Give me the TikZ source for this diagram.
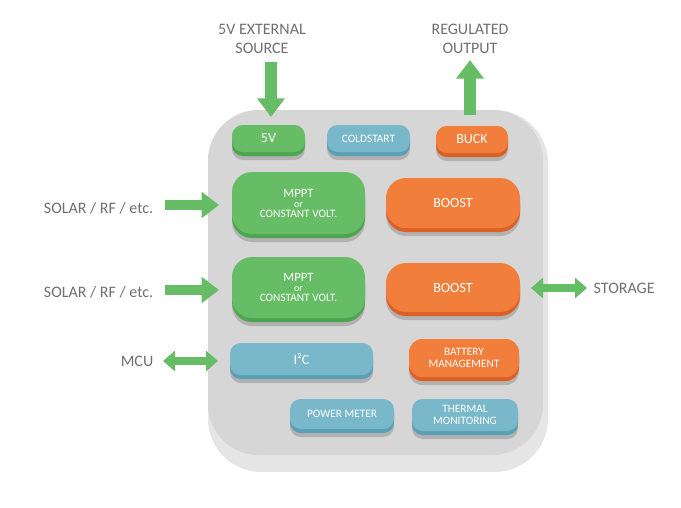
\documentclass[tikz,border=0pt]{standalone}
\usepackage{fontspec}
\setmainfont{Carlito}
\usetikzlibrary{arrows.meta}
\definecolor{grn}{HTML}{66BD66}\definecolor{grnd}{HTML}{4FA54F}
\definecolor{blu}{HTML}{78B8CA}\definecolor{blud}{HTML}{5A9FB4}
\definecolor{org}{HTML}{F27E3C}\definecolor{orgd}{HTML}{DD5F27}
\definecolor{txt}{HTML}{707070}
\tikzset{
 lbl/.style={text=txt,font=\fontsize{12}{14}\selectfont,align=center},
 arr/.style={grn,line width=9pt,-{Triangle[length=14pt,width=20pt]}},
 darr/.style={grn,line width=6pt,{Triangle[length=9pt,width=15pt]}-{Triangle[length=9pt,width=15pt]}},
}
% block: name, x1,y1,x2,y2, main, dark, radius, text
\newcommand{\blk}[9]{%
 \fill[black!30,rounded corners=#8] (#2,#3+8) rectangle (#4,#5+8);
 \fill[#7,rounded corners=#8] (#2,#3+4) rectangle (#4,#5+4);
 \fill[#6,rounded corners=#8] (#2,#3) rectangle (#4,#5);
 \node[text=white,align=center,font=\fontsize{8.5}{8.5}\selectfont] (#1) at ({(#2+#4)/2},{(#3+#5)/2}) {#9};}
\begin{document}
\begin{tikzpicture}[x=0.75pt,y=-0.75pt]
\useasboundingbox (0,0) rectangle (681,507);
\fill[white] (0,0) rectangle (681,507);
\fill[black!10,rounded corners=40] (208,110) rectangle (548,472);
\fill[black!17!green!2!white!83!black,fill=black!16,rounded corners=38] (208,110) rectangle (543,455);
\blk{v5}{232}{125}{305}{152}{grn}{grnd}{8}{\fontsize{10.5}{12}\selectfont 5V}
\blk{cold}{327}{125}{410}{152}{blu}{blud}{8}{COLDSTART}
\blk{buck}{436}{126}{508}{153}{org}{orgd}{8}{\fontsize{10.5}{12}\selectfont BUCK}
\blk{mppt1}{232}{172}{365}{234}{grn}{grnd}{15}{\fontsize{9.5}{11.5}\selectfont MPPT\\[-1pt]{\fontsize{7.5}{9}\selectfont or}\\[-1pt]CONSTANT VOLT.}
\blk{boost1}{386}{178}{520}{228}{org}{orgd}{15}{\fontsize{10.5}{12}\selectfont BOOST}
\blk{mppt2}{232}{257}{365}{318}{grn}{grnd}{15}{\fontsize{9.5}{11.5}\selectfont MPPT\\[-1pt]{\fontsize{7.5}{9}\selectfont or}\\[-1pt]CONSTANT VOLT.}
\blk{boost2}{386}{263}{520}{312}{org}{orgd}{15}{\fontsize{10.5}{12}\selectfont BOOST}
\blk{i2c}{230}{343}{373}{375}{blu}{blud}{8}{\fontsize{10.5}{12}\selectfont I²C}
\blk{batt}{409}{339}{519}{377}{org}{orgd}{10}{BATTERY\\MANAGEMENT}
\blk{pm}{290}{399}{394}{429}{blu}{blud}{8}{POWER METER}
\blk{therm}{412}{399}{518}{431}{blu}{blud}{8}{THERMAL\\MONITORING}
% labels
\node[lbl] (ext) at (262,39) {5V EXTERNAL\\SOURCE};
\node[lbl] (reg) at (470,39) {REGULATED\\OUTPUT};
\node[lbl,anchor=east] (s1) at (158,208) {SOLAR / RF / etc.};
\node[lbl,anchor=east] (s2) at (158,292) {SOLAR / RF / etc.};
\node[lbl,anchor=east] (mcu) at (158,361) {MCU};
\node[lbl,anchor=west] (sto) at (589,288) {STORAGE};
% arrows
\coordinate (a1) at (271,62); \coordinate (a2) at (271,117);
\draw[arr] (a1) -- (a2);
\coordinate (b1) at (470,115); \coordinate (b2) at (470,60);
\draw[arr] (b1) -- (b2);
\coordinate (c1) at (165,205); \coordinate (c2) at (219,205);
\draw[arr,line width=7pt,-{Triangle[length=13pt,width=19pt]}] (c1) -- (c2);
\coordinate (d1) at (165,290); \coordinate (d2) at (219,290);
\draw[arr,line width=7pt,-{Triangle[length=13pt,width=19pt]}] (d1) -- (d2);
\coordinate (e1) at (163,361); \coordinate (e2) at (218,361);
\draw[darr] (e1) -- (e2);
\coordinate (f1) at (531,288); \coordinate (f2) at (587,288);
\draw[darr] (f1) -- (f2);
\end{tikzpicture}
\end{document}
